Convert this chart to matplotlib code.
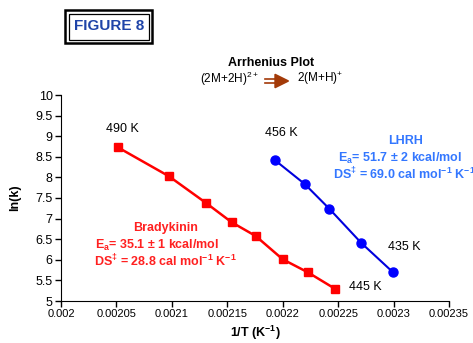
import matplotlib
matplotlib.use("Agg")
import matplotlib.pyplot as plt
from matplotlib.patches import Rectangle, Polygon
from matplotlib.lines import Line2D
import numpy as np

plt.rcParams['font.family'] = ['Liberation Sans', 'DejaVu Sans']
plt.rcParams['mathtext.fontset'] = 'custom'
plt.rcParams['mathtext.rm'] = 'Liberation Sans'
plt.rcParams['mathtext.bf'] = 'Liberation Sans:bold'
plt.rcParams['mathtext.it'] = 'Liberation Sans:italic'

# Data
brady_x = [0.0020512, 0.0020974, 0.0021305, 0.0021540, 0.0021756, 0.0022000, 0.0022226, 0.0022475]
brady_y = [8.731, 8.027, 7.386, 6.910, 6.578, 6.012, 5.697, 5.291]
lhrh_x = [0.0021928, 0.0022198, 0.0022420, 0.0022709, 0.0022992]
lhrh_y = [8.422, 7.840, 7.240, 6.408, 5.704]
xticks = [0.002, 0.00205, 0.0021, 0.00215, 0.0022, 0.00225, 0.0023, 0.00235]
xtick_labels = ["0.002", "0.00205", "0.0021", "0.00215", "0.0022", "0.00225", "0.0023", "0.00235"]
yticks = [5, 5.5, 6, 6.5, 7, 7.5, 8, 8.5, 9, 9.5, 10]
ytick_labels = ["5", "5.5", "6", "6.5", "7", "7.5", "8", "8.5", "9", "9.5", "10"]

W, H = 473, 343
fig = plt.figure(figsize=(W / 100, H / 100), dpi=100)

def fx(px):
    return px / W

def fy(py):
    return 1 - py / H

ax = fig.add_axes([fx(61), fy(301), (449 - 61) / W, (301 - 95) / H])
ax.plot(brady_x, brady_y, color='#ff0000', lw=1.8, marker='s', ms=5.5,
        markerfacecolor='#ff0000', markeredgecolor='#ff0000')
ax.plot(lhrh_x, lhrh_y, color='#0000dd', lw=1.5, marker='o', ms=6.5,
        markerfacecolor='#0000ff', markeredgecolor='#0000ff')

ax.set_xlim(0.002, 0.00235)
ax.set_ylim(5, 10)
ax.set_xticks(xticks)
ax.set_xticklabels(xtick_labels, fontsize=8)
ax.set_yticks(yticks)
ax.set_yticklabels(ytick_labels, fontsize=9)
ax.spines['top'].set_visible(False)
ax.spines['right'].set_visible(False)
ax.tick_params(direction='out', length=4, width=1, pad=2)
ax.patch.set_visible(False)

# point labels
ax.text(0.002055, 9.175, "490 K", ha='center', va='center', fontsize=9)
ax.text(0.0022747, 5.34, "445 K", ha='center', va='center', fontsize=9)
ax.text(0.0021985, 9.078, "456 K", ha='center', va='center', fontsize=9)
ax.text(0.0023099, 6.31, "435 K", ha='center', va='center', fontsize=9)

# axis labels
fig.text(fx(255), fy(333), r"1/T (K$^{\mathbf{-1}}$)", ha='center', va='center',
         fontsize=9, fontweight='bold')
fig.text(fx(15), fy(198), "ln(k)", ha='center', va='center', rotation=90,
         fontsize=9, fontweight='bold')

# Bradykinin annotation
red = '#ff2020'
fig.text(fx(165.5), fy(228), "Bradykinin", ha='center', va='center', fontsize=9,
         fontweight='bold', color=red)
fig.text(fx(157), fy(245), r"E$_{\mathbf{a}}$= 35.1 ± 1 kcal/mol", ha='center', va='center',
         fontsize=9, fontweight='bold', color=red)
fig.text(fx(165), fy(261), r"DS$^{\mathbf{‡}}$ = 28.8 cal mol$^{\mathbf{-1}}$ K$^{\mathbf{-1}}$",
         ha='center', va='center', fontsize=9, fontweight='bold', color=red)

# LHRH annotation
blue_t = '#3377ff'
fig.text(fx(406), fy(141), "LHRH", ha='center', va='center', fontsize=9,
         fontweight='bold', color=blue_t)
fig.text(fx(338), fy(158), r"E$_{\mathbf{a}}$= 51.7 ± 2 kcal/mol", ha='left', va='center',
         fontsize=9, fontweight='bold', color=blue_t)
fig.text(fx(333), fy(174), r"DS$^{\mathbf{‡}}$ = 69.0 cal mol$^{\mathbf{-1}}$ K$^{\mathbf{-1}}$",
         ha='left', va='center', fontsize=9, fontweight='bold', color=blue_t)

# Title
fig.text(fx(271), fy(63), "Arrhenius Plot", ha='center', va='center', fontsize=9,
         fontweight='bold')
fig.text(fx(259), fy(79), r"(2M+2H)$^{2+}$", ha='right', va='center', fontsize=8.5)
fig.text(fx(297), fy(79), r"2(M+H)$^{+}$", ha='left', va='center', fontsize=8.5)

# arrow
brown = '#a33a08'
for yy in (79.3, 82.7):
    fig.add_artist(Line2D([fx(265), fx(276)], [fy(yy), fy(yy)], color=brown, lw=1.2,
                          transform=fig.transFigure))
fig.add_artist(Polygon([[fx(275), fy(74.3)], [fx(288.5), fy(81)], [fx(275), fy(87.7)]],
                       closed=True, facecolor=brown, edgecolor=brown,
                       transform=fig.transFigure))

# FIGURE 8 box
fig.add_artist(Rectangle((fx(65), fy(43)), (152 - 65) / W, (43 - 10) / H, fill=False,
                         edgecolor='black', lw=1.8, transform=fig.transFigure))
fig.add_artist(Rectangle((fx(68.5), fy(39.5)), (148.5 - 68.5) / W, (39.5 - 13.5) / H,
                         fill=False, edgecolor='black', lw=0.9, transform=fig.transFigure))
fig.text(fx(109), fy(26.5), "FIGURE 8", ha='center', va='center', fontsize=11,
         fontweight='bold', color='#1f44a8')

fig.savefig("out.png", dpi=100)
